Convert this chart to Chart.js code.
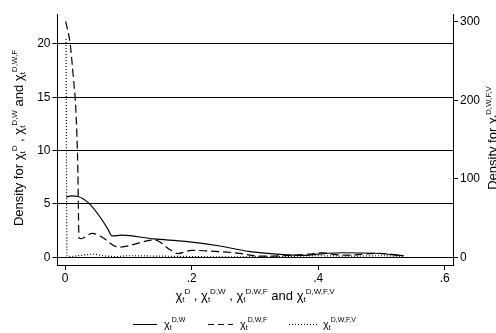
<!DOCTYPE html>
<html>
<head>
<meta charset="utf-8">
<script src="https://cdn.jsdelivr.net/npm/chart.js@4/dist/chart.umd.min.js"></script>
<style>
  body { margin: 0; background: #fff; }
  #wrap { width: 496px; height: 333px; }
</style>
</head>
<body>
<div id="wrap"><canvas id="chart" width="496" height="333"></canvas></div>
<script>
// valores
const dwX = [0.002, 0.01, 0.02, 0.037, 0.055, 0.068, 0.074, 0.09, 0.14, 0.19, 0.245, 0.29, 0.34, 0.38, 0.40, 0.44, 0.49, 0.535];
const dwY = [5.65, 5.75, 5.7, 5.1, 3.8, 2.6, 2.0, 2.08, 1.72, 1.5, 1.06, 0.55, 0.28, 0.19, 0.3, 0.43, 0.38, 0.15];

const dwfX = [0.001, 0.008, 0.013, 0.017, 0.020, 0.022, 0.025, 0.043, 0.058, 0.084, 0.142, 0.166, 0.178, 0.2, 0.245, 0.276, 0.303, 0.328, 0.36, 0.385, 0.408, 0.424, 0.45, 0.47, 0.492, 0.513, 0.534];
const dwfY = [22.1, 20.0, 16.9, 13.8, 8.7, 1.8, 1.75, 2.25, 1.9, 0.95, 1.62, 0.7, 0.35, 0.65, 0.53, 0.37, 0.12, 0.12, 0.2, 0.3, 0.43, 0.28, 0.2, 0.3, 0.37, 0.31, 0.15];

const dwfvX = [0.0015, 0.003, 0.01, 0.02, 0.03, 0.045, 0.06, 0.08, 0.1, 0.15, 0.2, 0.25, 0.3, 0.35, 0.4, 0.45, 0.5, 0.535];
const dwfvY = [278, 2, 1, 2, 3, 4, 2, 1, 2, 1.5, 1, 0.5, 0.5, 1, 2, 1.5, 2, 1];

const xTickValues = [0, 0.2, 0.4, 0.6];
const xTickLabels = ['0', '.2', '.4', '.6'];
const leftTicks = [0, 5, 10, 15, 20];
const rightTicks = [0, 100, 200, 300];

const FONT = "'Liberation Sans', Arial, sans-serif";

function toPoints(xs, ys) {
  return xs.map((x, i) => ({ x: x, y: ys[i] }));
}

// desenha "χt^sup" com subscrito/sobrescrito
function chiParts(sup, big, small) {
  return [
    { t: 'χ', s: big, dy: 0 },
    { t: 't', s: small, dy: 2 },
    { t: sup, s: small, dy: -6.5 }
  ];
}

function drawRich(ctx, parts, x, y, align) {
  let w = 0;
  parts.forEach(p => {
    ctx.font = p.s + 'px ' + FONT;
    p.w = ctx.measureText(p.t).width;
    w += p.w;
  });
  let cx = align === 'center' ? x - w / 2 : x;
  ctx.textAlign = 'left';
  ctx.textBaseline = 'alphabetic';
  parts.forEach(p => {
    ctx.font = p.s + 'px ' + FONT;
    ctx.fillText(p.t, cx, y + p.dy);
    cx += p.w;
  });
}

const richText = {
  id: 'richText',
  afterDraw(chart) {
    const ctx = chart.ctx;
    ctx.save();
    ctx.fillStyle = '#000';

    // título eixo esquerdo
    ctx.save();
    ctx.translate(23, 138);
    ctx.rotate(-Math.PI / 2);
    drawRich(ctx, [{ t: 'Density for ', s: 13, dy: 0 }]
      .concat(chiParts('D', 13, 8))
      .concat([{ t: ' , ', s: 13, dy: 0 }])
      .concat(chiParts('D,W', 13, 8))
      .concat([{ t: ' and ', s: 13, dy: 0 }])
      .concat(chiParts('D,W,F', 13, 8)), 0, 0, 'center');
    ctx.restore();

    // título eixo direito (cortado na borda)
    ctx.save();
    ctx.translate(497, 138);
    ctx.rotate(-Math.PI / 2);
    drawRich(ctx, [{ t: 'Density for ', s: 13, dy: 0 }]
      .concat(chiParts('D,W,F,V', 13, 8)), 0, 0, 'center');
    ctx.restore();

    // título eixo x
    drawRich(ctx, chiParts('D', 13, 8)
      .concat([{ t: ' , ', s: 13, dy: 0 }])
      .concat(chiParts('D,W', 13, 8))
      .concat([{ t: ' , ', s: 13, dy: 0 }])
      .concat(chiParts('D,W,F', 13, 8))
      .concat([{ t: ' and ', s: 13, dy: 0 }])
      .concat(chiParts('D,W,F,V', 13, 8)), 255, 300, 'center');

    // legenda
    const items = [
      { x0: 133, x1: 157, tx: 164, dash: [], sup: 'D,W' },
      { x0: 208, x1: 233, tx: 240, dash: [6, 4], sup: 'D,W,F' },
      { x0: 289, x1: 317, tx: 323, dash: [1, 2], sup: 'D,W,F,V' }
    ];
    items.forEach(it => {
      ctx.beginPath();
      ctx.setLineDash(it.dash);
      ctx.lineWidth = 1;
      ctx.strokeStyle = '#000';
      ctx.moveTo(it.x0, 324.5);
      ctx.lineTo(it.x1, 324.5);
      ctx.stroke();
      ctx.setLineDash([]);
      const parts = [
        { t: 'χ', s: 11, dy: 0 },
        { t: 't', s: 7, dy: 2 },
        { t: it.sup, s: 7, dy: -6 }
      ];
      drawRich(ctx, parts, it.tx, 328, 'left');
    });

    ctx.restore();
  }
};

const tickFont = { family: FONT, size: 12 };

new Chart(document.getElementById('chart').getContext('2d'), {
  type: 'line',
  data: {
    datasets: [
      {
        label: 'D,W',
        data: toPoints(dwX, dwY),
        yAxisID: 'y',
        borderColor: '#000',
        borderWidth: 1.2,
        pointRadius: 0,
        cubicInterpolationMode: 'monotone'
      },
      {
        label: 'D,W,F',
        data: toPoints(dwfX, dwfY),
        yAxisID: 'y',
        borderColor: '#000',
        borderWidth: 1.2,
        borderDash: [8, 4],
        pointRadius: 0,
        cubicInterpolationMode: 'monotone'
      },
      {
        label: 'D,W,F,V',
        data: toPoints(dwfvX, dwfvY),
        yAxisID: 'y1',
        borderColor: '#000',
        borderWidth: 1.2,
        borderDash: [1, 2],
        pointRadius: 0,
        cubicInterpolationMode: 'monotone'
      }
    ]
  },
  options: {
    responsive: false,
    animation: false,
    devicePixelRatio: 1,
    layout: { padding: { top: 14, left: 0, right: 0, bottom: 0 } },
    plugins: {
      legend: { display: false },
      tooltip: { enabled: false }
    },
    scales: {
      x: {
        type: 'linear',
        min: -0.012,
        max: 0.613,
        afterBuildTicks: s => { s.ticks = xTickValues.map(v => ({ value: v })); },
        afterFit: s => { s.height = 68; },
        ticks: {
          color: '#000',
          font: tickFont,
          padding: 1,
          maxRotation: 0,
          callback: v => xTickLabels[xTickValues.indexOf(v)]
        },
        grid: { drawOnChartArea: false, drawTicks: true, tickLength: 5, color: '#000' },
        border: { display: true, color: '#000', width: 1 }
      },
      y: {
        position: 'left',
        min: -0.72,
        max: 22.8,
        afterBuildTicks: s => { s.ticks = leftTicks.map(v => ({ value: v })); },
        afterFit: s => { s.width = 57.5; },
        ticks: { color: '#000', font: tickFont, padding: 2 },
        grid: { drawOnChartArea: true, drawTicks: true, tickLength: 5, color: '#000', lineWidth: 1 },
        border: { display: true, color: '#000', width: 1 }
      },
      y1: {
        position: 'right',
        min: -9.8,
        max: 310,
        afterBuildTicks: s => { s.ticks = rightTicks.map(v => ({ value: v })); },
        afterFit: s => { s.width = 43; },
        ticks: { color: '#000', font: tickFont, padding: 2 },
        grid: { drawOnChartArea: false, drawTicks: true, tickLength: 5, color: '#000' },
        border: { display: true, color: '#000', width: 1 }
      }
    }
  },
  plugins: [richText]
});
</script>
</body>
</html>
